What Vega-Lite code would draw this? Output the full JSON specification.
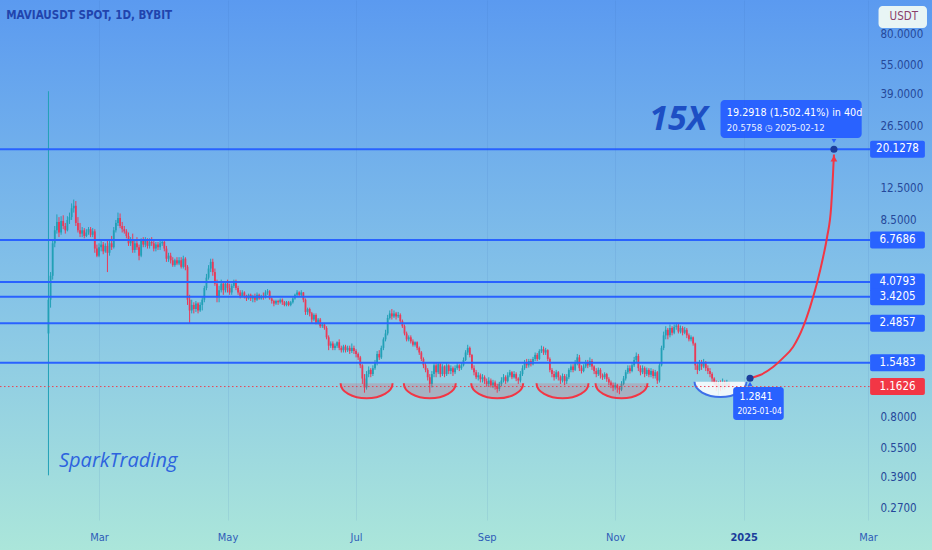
{
"$schema": "https://vega.github.io/schema/vega-lite/v6.json",
"width": 868, "height": 520, "padding": {"left": 0, "top": 0, "right": 64, "bottom": 30}, "autosize": {"type": "none"},
"background": "#9fdbe0",
"view": {"stroke": null},
"config": {"font": "'Liberation Sans Narrow', 'DejaVu Sans Condensed', sans-serif"},
"datasets": {
"candles": [
{"d":"2024-02-06","o":2.2,"h":40.4,"l":0.4,"c":3.3},
{"d":"2024-02-07","o":3.3,"h":4.6,"l":3.0,"c":4.4},
{"d":"2024-02-08","o":4.4,"h":6.8,"l":4.2,"c":6.5},
{"d":"2024-02-09","o":6.5,"h":8.0,"l":6.2,"c":7.6},
{"d":"2024-02-10","o":7.6,"h":9.2,"l":7.3,"c":8.4},
{"d":"2024-02-11","o":8.4,"h":8.9,"l":7.0,"c":7.4},
{"d":"2024-02-12","o":7.4,"h":9.0,"l":7.2,"c":8.5},
{"d":"2024-02-13","o":8.5,"h":9.1,"l":7.7,"c":8.0},
{"d":"2024-02-14","o":8.0,"h":8.3,"l":7.3,"c":7.6},
{"d":"2024-02-15","o":7.6,"h":9.0,"l":7.5,"c":8.6},
{"d":"2024-02-16","o":8.6,"h":9.4,"l":8.2,"c":8.9},
{"d":"2024-02-17","o":8.9,"h":10.5,"l":8.6,"c":9.9},
{"d":"2024-02-18","o":9.9,"h":11.0,"l":9.4,"c":10.2},
{"d":"2024-02-19","o":10.2,"h":10.8,"l":8.0,"c":8.3},
{"d":"2024-02-20","o":8.3,"h":8.9,"l":7.4,"c":7.6},
{"d":"2024-02-21","o":7.6,"h":8.3,"l":7.0,"c":7.3},
{"d":"2024-02-22","o":7.3,"h":7.9,"l":7.0,"c":7.6},
{"d":"2024-02-23","o":7.6,"h":7.8,"l":6.9,"c":7.1},
{"d":"2024-02-24","o":7.1,"h":7.7,"l":7.0,"c":7.4},
{"d":"2024-02-25","o":7.4,"h":7.9,"l":7.2,"c":7.7},
{"d":"2024-02-26","o":7.7,"h":7.9,"l":7.0,"c":7.2},
{"d":"2024-02-27","o":7.2,"h":7.8,"l":7.0,"c":7.5},
{"d":"2024-02-28","o":7.5,"h":7.7,"l":5.8,"c":6.1},
{"d":"2024-02-29","o":6.1,"h":6.4,"l":5.5,"c":5.6},
{"d":"2024-03-01","o":5.6,"h":6.5,"l":5.5,"c":6.2},
{"d":"2024-03-02","o":6.2,"h":6.7,"l":5.9,"c":6.4},
{"d":"2024-03-03","o":6.4,"h":6.6,"l":5.7,"c":5.9},
{"d":"2024-03-04","o":5.9,"h":6.5,"l":5.8,"c":6.3},
{"d":"2024-03-05","o":6.3,"h":6.8,"l":4.6,"c":5.8},
{"d":"2024-03-06","o":5.8,"h":6.8,"l":5.6,"c":6.5},
{"d":"2024-03-07","o":6.5,"h":7.1,"l":6.0,"c":6.2},
{"d":"2024-03-08","o":6.2,"h":7.9,"l":6.1,"c":7.6},
{"d":"2024-03-09","o":7.6,"h":8.6,"l":7.4,"c":8.3},
{"d":"2024-03-10","o":8.3,"h":9.4,"l":8.0,"c":8.8},
{"d":"2024-03-11","o":8.8,"h":9.3,"l":7.8,"c":8.0},
{"d":"2024-03-12","o":8.0,"h":8.4,"l":7.4,"c":7.7},
{"d":"2024-03-13","o":7.7,"h":8.0,"l":7.3,"c":7.5},
{"d":"2024-03-14","o":7.5,"h":7.7,"l":6.9,"c":7.1},
{"d":"2024-03-15","o":7.1,"h":7.4,"l":6.3,"c":6.5},
{"d":"2024-03-16","o":6.5,"h":7.0,"l":6.3,"c":6.8},
{"d":"2024-03-17","o":6.8,"h":7.3,"l":5.8,"c":6.0},
{"d":"2024-03-18","o":6.0,"h":6.8,"l":5.8,"c":6.5},
{"d":"2024-03-19","o":6.5,"h":7.0,"l":6.0,"c":6.2},
{"d":"2024-03-20","o":6.2,"h":6.4,"l":5.3,"c":5.6},
{"d":"2024-03-21","o":5.6,"h":6.9,"l":5.5,"c":6.7},
{"d":"2024-03-22","o":6.7,"h":7.0,"l":6.2,"c":6.4},
{"d":"2024-03-23","o":6.4,"h":7.0,"l":6.2,"c":6.8},
{"d":"2024-03-24","o":6.8,"h":6.9,"l":6.1,"c":6.3},
{"d":"2024-03-25","o":6.3,"h":6.9,"l":6.1,"c":6.6},
{"d":"2024-03-26","o":6.6,"h":7.0,"l":6.3,"c":6.5},
{"d":"2024-03-27","o":6.5,"h":6.8,"l":5.9,"c":6.1},
{"d":"2024-03-28","o":6.1,"h":6.6,"l":5.9,"c":6.4},
{"d":"2024-03-29","o":6.4,"h":6.6,"l":6.0,"c":6.2},
{"d":"2024-03-30","o":6.2,"h":6.7,"l":6.0,"c":6.5},
{"d":"2024-03-31","o":6.5,"h":6.8,"l":6.3,"c":6.6},
{"d":"2024-04-01","o":6.6,"h":6.8,"l":5.9,"c":6.1},
{"d":"2024-04-02","o":6.1,"h":6.3,"l":5.2,"c":5.4},
{"d":"2024-04-03","o":5.4,"h":5.8,"l":5.2,"c":5.6},
{"d":"2024-04-04","o":5.6,"h":5.8,"l":5.1,"c":5.3},
{"d":"2024-04-05","o":5.3,"h":5.5,"l":4.9,"c":5.0},
{"d":"2024-04-06","o":5.0,"h":5.4,"l":4.9,"c":5.3},
{"d":"2024-04-07","o":5.3,"h":5.5,"l":5.0,"c":5.1},
{"d":"2024-04-08","o":5.1,"h":5.5,"l":5.0,"c":5.3},
{"d":"2024-04-09","o":5.3,"h":5.5,"l":4.8,"c":4.9},
{"d":"2024-04-10","o":4.9,"h":5.6,"l":4.8,"c":5.4},
{"d":"2024-04-11","o":5.4,"h":5.5,"l":4.7,"c":4.9},
{"d":"2024-04-12","o":4.9,"h":5.0,"l":3.1,"c":3.3},
{"d":"2024-04-13","o":3.3,"h":3.5,"l":2.48,"c":2.9},
{"d":"2024-04-14","o":2.9,"h":3.3,"l":2.8,"c":3.1},
{"d":"2024-04-15","o":3.1,"h":3.2,"l":2.8,"c":2.95},
{"d":"2024-04-16","o":2.95,"h":3.25,"l":2.85,"c":3.15},
{"d":"2024-04-17","o":3.15,"h":3.2,"l":2.8,"c":2.9},
{"d":"2024-04-18","o":2.9,"h":3.2,"l":2.85,"c":3.1},
{"d":"2024-04-19","o":3.1,"h":3.4,"l":2.9,"c":3.3},
{"d":"2024-04-20","o":3.3,"h":3.9,"l":3.2,"c":3.8},
{"d":"2024-04-21","o":3.8,"h":4.5,"l":3.7,"c":4.3},
{"d":"2024-04-22","o":4.3,"h":5.0,"l":4.2,"c":4.8},
{"d":"2024-04-23","o":4.8,"h":5.4,"l":4.6,"c":5.2},
{"d":"2024-04-24","o":5.2,"h":5.4,"l":4.4,"c":4.6},
{"d":"2024-04-25","o":4.6,"h":4.8,"l":3.9,"c":4.0},
{"d":"2024-04-26","o":4.0,"h":4.2,"l":3.2,"c":3.4},
{"d":"2024-04-27","o":3.4,"h":3.9,"l":3.2,"c":3.7},
{"d":"2024-04-28","o":3.7,"h":4.2,"l":3.6,"c":4.0},
{"d":"2024-04-29","o":4.0,"h":4.1,"l":3.5,"c":3.7},
{"d":"2024-04-30","o":3.7,"h":4.1,"l":3.6,"c":4.0},
{"d":"2024-05-01","o":4.0,"h":4.2,"l":3.6,"c":3.8},
{"d":"2024-05-02","o":3.8,"h":4.0,"l":3.5,"c":3.6},
{"d":"2024-05-03","o":3.6,"h":4.0,"l":3.5,"c":3.9},
{"d":"2024-05-04","o":3.9,"h":4.2,"l":3.8,"c":4.1},
{"d":"2024-05-05","o":4.1,"h":4.2,"l":3.7,"c":3.8},
{"d":"2024-05-06","o":3.8,"h":3.9,"l":3.5,"c":3.6},
{"d":"2024-05-07","o":3.6,"h":3.7,"l":3.35,"c":3.45},
{"d":"2024-05-08","o":3.45,"h":3.7,"l":3.4,"c":3.6},
{"d":"2024-05-09","o":3.6,"h":3.65,"l":3.35,"c":3.45},
{"d":"2024-05-10","o":3.45,"h":3.5,"l":3.25,"c":3.35},
{"d":"2024-05-11","o":3.35,"h":3.55,"l":3.3,"c":3.5},
{"d":"2024-05-12","o":3.5,"h":3.55,"l":3.25,"c":3.35},
{"d":"2024-05-13","o":3.35,"h":3.5,"l":3.2,"c":3.45},
{"d":"2024-05-14","o":3.45,"h":3.55,"l":3.2,"c":3.3},
{"d":"2024-05-15","o":3.3,"h":3.6,"l":3.25,"c":3.5},
{"d":"2024-05-16","o":3.5,"h":3.55,"l":3.3,"c":3.35},
{"d":"2024-05-17","o":3.35,"h":3.5,"l":3.3,"c":3.45},
{"d":"2024-05-18","o":3.45,"h":3.6,"l":3.3,"c":3.4},
{"d":"2024-05-19","o":3.4,"h":3.7,"l":3.35,"c":3.6},
{"d":"2024-05-20","o":3.6,"h":3.75,"l":3.5,"c":3.65},
{"d":"2024-05-21","o":3.65,"h":3.7,"l":3.3,"c":3.35},
{"d":"2024-05-22","o":3.35,"h":3.4,"l":3.15,"c":3.25},
{"d":"2024-05-23","o":3.25,"h":3.3,"l":3.05,"c":3.15},
{"d":"2024-05-24","o":3.15,"h":3.3,"l":3.1,"c":3.25},
{"d":"2024-05-25","o":3.25,"h":3.3,"l":3.1,"c":3.2},
{"d":"2024-05-26","o":3.2,"h":3.35,"l":3.15,"c":3.3},
{"d":"2024-05-27","o":3.3,"h":3.35,"l":3.1,"c":3.2},
{"d":"2024-05-28","o":3.2,"h":3.25,"l":3.05,"c":3.1},
{"d":"2024-05-29","o":3.1,"h":3.25,"l":3.05,"c":3.2},
{"d":"2024-05-30","o":3.2,"h":3.25,"l":3.05,"c":3.1},
{"d":"2024-05-31","o":3.1,"h":3.25,"l":3.05,"c":3.2},
{"d":"2024-06-01","o":3.2,"h":3.4,"l":3.15,"c":3.35},
{"d":"2024-06-02","o":3.35,"h":3.55,"l":3.3,"c":3.5},
{"d":"2024-06-03","o":3.5,"h":3.7,"l":3.45,"c":3.6},
{"d":"2024-06-04","o":3.6,"h":3.65,"l":3.45,"c":3.5},
{"d":"2024-06-05","o":3.5,"h":3.7,"l":3.45,"c":3.6},
{"d":"2024-06-06","o":3.6,"h":3.62,"l":3.2,"c":3.3},
{"d":"2024-06-07","o":3.3,"h":3.35,"l":2.75,"c":2.85},
{"d":"2024-06-08","o":2.85,"h":3.0,"l":2.75,"c":2.95},
{"d":"2024-06-09","o":2.95,"h":3.0,"l":2.7,"c":2.8},
{"d":"2024-06-10","o":2.8,"h":2.85,"l":2.5,"c":2.6},
{"d":"2024-06-11","o":2.6,"h":2.8,"l":2.55,"c":2.75},
{"d":"2024-06-12","o":2.75,"h":2.8,"l":2.45,"c":2.5},
{"d":"2024-06-13","o":2.5,"h":2.65,"l":2.45,"c":2.6},
{"d":"2024-06-14","o":2.6,"h":2.65,"l":2.35,"c":2.4},
{"d":"2024-06-15","o":2.4,"h":2.5,"l":2.35,"c":2.45},
{"d":"2024-06-16","o":2.45,"h":2.5,"l":2.3,"c":2.35},
{"d":"2024-06-17","o":2.35,"h":2.4,"l":2.05,"c":2.1},
{"d":"2024-06-18","o":2.1,"h":2.15,"l":1.8,"c":1.9},
{"d":"2024-06-19","o":1.9,"h":2.0,"l":1.85,"c":1.95},
{"d":"2024-06-20","o":1.95,"h":2.0,"l":1.8,"c":1.85},
{"d":"2024-06-21","o":1.85,"h":1.95,"l":1.8,"c":1.9},
{"d":"2024-06-22","o":1.9,"h":2.0,"l":1.85,"c":1.98},
{"d":"2024-06-23","o":1.98,"h":2.05,"l":1.8,"c":1.85},
{"d":"2024-06-24","o":1.85,"h":1.9,"l":1.75,"c":1.8},
{"d":"2024-06-25","o":1.8,"h":1.92,"l":1.75,"c":1.88},
{"d":"2024-06-26","o":1.88,"h":1.92,"l":1.75,"c":1.8},
{"d":"2024-06-27","o":1.8,"h":1.9,"l":1.76,"c":1.85},
{"d":"2024-06-28","o":1.85,"h":1.9,"l":1.72,"c":1.78},
{"d":"2024-06-29","o":1.78,"h":1.95,"l":1.74,"c":1.85},
{"d":"2024-06-30","o":1.85,"h":1.9,"l":1.72,"c":1.78},
{"d":"2024-07-01","o":1.78,"h":1.82,"l":1.65,"c":1.72},
{"d":"2024-07-02","o":1.72,"h":1.75,"l":1.6,"c":1.65},
{"d":"2024-07-03","o":1.65,"h":1.68,"l":1.45,"c":1.5},
{"d":"2024-07-04","o":1.5,"h":1.52,"l":1.2,"c":1.28},
{"d":"2024-07-05","o":1.28,"h":1.35,"l":1.08,"c":1.15},
{"d":"2024-07-06","o":1.15,"h":1.4,"l":1.12,"c":1.35},
{"d":"2024-07-07","o":1.35,"h":1.48,"l":1.3,"c":1.42},
{"d":"2024-07-08","o":1.42,"h":1.45,"l":1.3,"c":1.35},
{"d":"2024-07-09","o":1.35,"h":1.5,"l":1.32,"c":1.45},
{"d":"2024-07-10","o":1.45,"h":1.6,"l":1.42,"c":1.55},
{"d":"2024-07-11","o":1.55,"h":1.78,"l":1.5,"c":1.72},
{"d":"2024-07-12","o":1.72,"h":1.8,"l":1.6,"c":1.65},
{"d":"2024-07-13","o":1.65,"h":1.9,"l":1.62,"c":1.85},
{"d":"2024-07-14","o":1.85,"h":2.1,"l":1.8,"c":2.05},
{"d":"2024-07-15","o":2.05,"h":2.3,"l":2.0,"c":2.2},
{"d":"2024-07-16","o":2.2,"h":2.75,"l":2.15,"c":2.65},
{"d":"2024-07-17","o":2.65,"h":2.9,"l":2.6,"c":2.8},
{"d":"2024-07-18","o":2.8,"h":2.95,"l":2.6,"c":2.7},
{"d":"2024-07-19","o":2.7,"h":2.9,"l":2.65,"c":2.8},
{"d":"2024-07-20","o":2.8,"h":2.85,"l":2.6,"c":2.7},
{"d":"2024-07-21","o":2.7,"h":2.85,"l":2.65,"c":2.75},
{"d":"2024-07-22","o":2.75,"h":2.8,"l":2.5,"c":2.55},
{"d":"2024-07-23","o":2.55,"h":2.6,"l":2.35,"c":2.4},
{"d":"2024-07-24","o":2.4,"h":2.45,"l":2.15,"c":2.2},
{"d":"2024-07-25","o":2.2,"h":2.25,"l":2.0,"c":2.05},
{"d":"2024-07-26","o":2.05,"h":2.15,"l":2.0,"c":2.1},
{"d":"2024-07-27","o":2.1,"h":2.15,"l":1.95,"c":2.0},
{"d":"2024-07-28","o":2.0,"h":2.05,"l":1.88,"c":1.92},
{"d":"2024-07-29","o":1.92,"h":2.0,"l":1.88,"c":1.98},
{"d":"2024-07-30","o":1.98,"h":2.0,"l":1.8,"c":1.85},
{"d":"2024-07-31","o":1.85,"h":1.88,"l":1.7,"c":1.75},
{"d":"2024-08-01","o":1.75,"h":1.78,"l":1.58,"c":1.62},
{"d":"2024-08-02","o":1.62,"h":1.65,"l":1.45,"c":1.5},
{"d":"2024-08-03","o":1.5,"h":1.55,"l":1.38,"c":1.42},
{"d":"2024-08-04","o":1.42,"h":1.45,"l":1.25,"c":1.3},
{"d":"2024-08-05","o":1.3,"h":1.35,"l":1.08,"c":1.2},
{"d":"2024-08-06","o":1.2,"h":1.4,"l":1.15,"c":1.35},
{"d":"2024-08-07","o":1.35,"h":1.55,"l":1.3,"c":1.5},
{"d":"2024-08-08","o":1.5,"h":1.55,"l":1.3,"c":1.38},
{"d":"2024-08-09","o":1.38,"h":1.55,"l":1.35,"c":1.52},
{"d":"2024-08-10","o":1.52,"h":1.55,"l":1.3,"c":1.35},
{"d":"2024-08-11","o":1.35,"h":1.52,"l":1.32,"c":1.48},
{"d":"2024-08-12","o":1.48,"h":1.5,"l":1.3,"c":1.35},
{"d":"2024-08-13","o":1.35,"h":1.55,"l":1.32,"c":1.5},
{"d":"2024-08-14","o":1.5,"h":1.52,"l":1.35,"c":1.4},
{"d":"2024-08-15","o":1.4,"h":1.5,"l":1.35,"c":1.45},
{"d":"2024-08-16","o":1.45,"h":1.48,"l":1.32,"c":1.38},
{"d":"2024-08-17","o":1.38,"h":1.5,"l":1.35,"c":1.45},
{"d":"2024-08-18","o":1.45,"h":1.55,"l":1.42,"c":1.5},
{"d":"2024-08-19","o":1.5,"h":1.52,"l":1.4,"c":1.45},
{"d":"2024-08-20","o":1.45,"h":1.55,"l":1.42,"c":1.5},
{"d":"2024-08-21","o":1.5,"h":1.65,"l":1.48,"c":1.6},
{"d":"2024-08-22","o":1.6,"h":1.8,"l":1.58,"c":1.75},
{"d":"2024-08-23","o":1.75,"h":1.92,"l":1.7,"c":1.85},
{"d":"2024-08-24","o":1.85,"h":1.88,"l":1.65,"c":1.7},
{"d":"2024-08-25","o":1.7,"h":1.72,"l":1.42,"c":1.45},
{"d":"2024-08-26","o":1.45,"h":1.5,"l":1.33,"c":1.38},
{"d":"2024-08-27","o":1.38,"h":1.42,"l":1.27,"c":1.3},
{"d":"2024-08-28","o":1.3,"h":1.38,"l":1.25,"c":1.33},
{"d":"2024-08-29","o":1.33,"h":1.36,"l":1.22,"c":1.27},
{"d":"2024-08-30","o":1.27,"h":1.35,"l":1.22,"c":1.3},
{"d":"2024-08-31","o":1.3,"h":1.33,"l":1.2,"c":1.24},
{"d":"2024-09-01","o":1.24,"h":1.28,"l":1.16,"c":1.2},
{"d":"2024-09-02","o":1.2,"h":1.3,"l":1.17,"c":1.25},
{"d":"2024-09-03","o":1.25,"h":1.28,"l":1.15,"c":1.18},
{"d":"2024-09-04","o":1.18,"h":1.26,"l":1.14,"c":1.22},
{"d":"2024-09-05","o":1.22,"h":1.25,"l":1.12,"c":1.16},
{"d":"2024-09-06","o":1.16,"h":1.2,"l":1.08,"c":1.13},
{"d":"2024-09-07","o":1.13,"h":1.23,"l":1.1,"c":1.2},
{"d":"2024-09-08","o":1.2,"h":1.3,"l":1.17,"c":1.25},
{"d":"2024-09-09","o":1.25,"h":1.35,"l":1.22,"c":1.3},
{"d":"2024-09-10","o":1.3,"h":1.33,"l":1.2,"c":1.24},
{"d":"2024-09-11","o":1.24,"h":1.38,"l":1.22,"c":1.33},
{"d":"2024-09-12","o":1.33,"h":1.42,"l":1.3,"c":1.38},
{"d":"2024-09-13","o":1.38,"h":1.4,"l":1.27,"c":1.3},
{"d":"2024-09-14","o":1.3,"h":1.4,"l":1.28,"c":1.35},
{"d":"2024-09-15","o":1.35,"h":1.38,"l":1.24,"c":1.28},
{"d":"2024-09-16","o":1.28,"h":1.3,"l":1.2,"c":1.25},
{"d":"2024-09-17","o":1.25,"h":1.4,"l":1.22,"c":1.35},
{"d":"2024-09-18","o":1.35,"h":1.5,"l":1.32,"c":1.45},
{"d":"2024-09-19","o":1.45,"h":1.6,"l":1.42,"c":1.55},
{"d":"2024-09-20","o":1.55,"h":1.62,"l":1.45,"c":1.5},
{"d":"2024-09-21","o":1.5,"h":1.62,"l":1.46,"c":1.58},
{"d":"2024-09-22","o":1.58,"h":1.62,"l":1.48,"c":1.52},
{"d":"2024-09-23","o":1.52,"h":1.66,"l":1.5,"c":1.62},
{"d":"2024-09-24","o":1.62,"h":1.75,"l":1.58,"c":1.7},
{"d":"2024-09-25","o":1.7,"h":1.74,"l":1.58,"c":1.62},
{"d":"2024-09-26","o":1.62,"h":1.82,"l":1.6,"c":1.78},
{"d":"2024-09-27","o":1.78,"h":1.9,"l":1.74,"c":1.82},
{"d":"2024-09-28","o":1.82,"h":1.88,"l":1.7,"c":1.75},
{"d":"2024-09-29","o":1.75,"h":1.85,"l":1.7,"c":1.8},
{"d":"2024-09-30","o":1.8,"h":1.82,"l":1.58,"c":1.62},
{"d":"2024-10-01","o":1.62,"h":1.65,"l":1.38,"c":1.42},
{"d":"2024-10-02","o":1.42,"h":1.45,"l":1.3,"c":1.35},
{"d":"2024-10-03","o":1.35,"h":1.4,"l":1.25,"c":1.3},
{"d":"2024-10-04","o":1.3,"h":1.42,"l":1.27,"c":1.38},
{"d":"2024-10-05","o":1.38,"h":1.4,"l":1.25,"c":1.3},
{"d":"2024-10-06","o":1.3,"h":1.33,"l":1.2,"c":1.25},
{"d":"2024-10-07","o":1.25,"h":1.36,"l":1.22,"c":1.32},
{"d":"2024-10-08","o":1.32,"h":1.35,"l":1.18,"c":1.24},
{"d":"2024-10-09","o":1.24,"h":1.35,"l":1.2,"c":1.3},
{"d":"2024-10-10","o":1.3,"h":1.45,"l":1.27,"c":1.42},
{"d":"2024-10-11","o":1.42,"h":1.52,"l":1.38,"c":1.48},
{"d":"2024-10-12","o":1.48,"h":1.52,"l":1.38,"c":1.42},
{"d":"2024-10-13","o":1.42,"h":1.6,"l":1.4,"c":1.55},
{"d":"2024-10-14","o":1.55,"h":1.72,"l":1.5,"c":1.65},
{"d":"2024-10-15","o":1.65,"h":1.7,"l":1.4,"c":1.45},
{"d":"2024-10-16","o":1.45,"h":1.5,"l":1.36,"c":1.4},
{"d":"2024-10-17","o":1.4,"h":1.52,"l":1.38,"c":1.48},
{"d":"2024-10-18","o":1.48,"h":1.6,"l":1.45,"c":1.55},
{"d":"2024-10-19","o":1.55,"h":1.6,"l":1.45,"c":1.5},
{"d":"2024-10-20","o":1.5,"h":1.65,"l":1.47,"c":1.58},
{"d":"2024-10-21","o":1.58,"h":1.62,"l":1.42,"c":1.48},
{"d":"2024-10-22","o":1.48,"h":1.5,"l":1.35,"c":1.4},
{"d":"2024-10-23","o":1.4,"h":1.45,"l":1.3,"c":1.35},
{"d":"2024-10-24","o":1.35,"h":1.46,"l":1.32,"c":1.42},
{"d":"2024-10-25","o":1.42,"h":1.45,"l":1.28,"c":1.33},
{"d":"2024-10-26","o":1.33,"h":1.36,"l":1.26,"c":1.3},
{"d":"2024-10-27","o":1.3,"h":1.38,"l":1.27,"c":1.35},
{"d":"2024-10-28","o":1.35,"h":1.37,"l":1.23,"c":1.27},
{"d":"2024-10-29","o":1.27,"h":1.3,"l":1.18,"c":1.22},
{"d":"2024-10-30","o":1.22,"h":1.25,"l":1.14,"c":1.18},
{"d":"2024-10-31","o":1.18,"h":1.22,"l":1.1,"c":1.15},
{"d":"2024-11-01","o":1.15,"h":1.22,"l":1.12,"c":1.18},
{"d":"2024-11-02","o":1.18,"h":1.2,"l":1.08,"c":1.14},
{"d":"2024-11-03","o":1.14,"h":1.17,"l":1.06,"c":1.12},
{"d":"2024-11-04","o":1.12,"h":1.24,"l":1.1,"c":1.2},
{"d":"2024-11-05","o":1.2,"h":1.32,"l":1.18,"c":1.28},
{"d":"2024-11-06","o":1.28,"h":1.42,"l":1.25,"c":1.38},
{"d":"2024-11-07","o":1.38,"h":1.5,"l":1.35,"c":1.45},
{"d":"2024-11-08","o":1.45,"h":1.5,"l":1.36,"c":1.4},
{"d":"2024-11-09","o":1.4,"h":1.55,"l":1.38,"c":1.5},
{"d":"2024-11-10","o":1.5,"h":1.66,"l":1.47,"c":1.6},
{"d":"2024-11-11","o":1.6,"h":1.75,"l":1.56,"c":1.68},
{"d":"2024-11-12","o":1.68,"h":1.72,"l":1.4,"c":1.45},
{"d":"2024-11-13","o":1.45,"h":1.5,"l":1.33,"c":1.38},
{"d":"2024-11-14","o":1.38,"h":1.5,"l":1.35,"c":1.45},
{"d":"2024-11-15","o":1.45,"h":1.48,"l":1.3,"c":1.35},
{"d":"2024-11-16","o":1.35,"h":1.46,"l":1.32,"c":1.42},
{"d":"2024-11-17","o":1.42,"h":1.45,"l":1.3,"c":1.34},
{"d":"2024-11-18","o":1.34,"h":1.45,"l":1.3,"c":1.4},
{"d":"2024-11-19","o":1.4,"h":1.43,"l":1.28,"c":1.32},
{"d":"2024-11-20","o":1.32,"h":1.42,"l":1.28,"c":1.38},
{"d":"2024-11-21","o":1.38,"h":1.4,"l":1.2,"c":1.25},
{"d":"2024-11-22","o":1.25,"h":1.55,"l":1.22,"c":1.5},
{"d":"2024-11-23","o":1.5,"h":1.9,"l":1.48,"c":1.85},
{"d":"2024-11-24","o":1.85,"h":2.25,"l":1.8,"c":2.15},
{"d":"2024-11-25","o":2.15,"h":2.4,"l":2.05,"c":2.3},
{"d":"2024-11-26","o":2.3,"h":2.35,"l":2.05,"c":2.15},
{"d":"2024-11-27","o":2.15,"h":2.45,"l":2.1,"c":2.35},
{"d":"2024-11-28","o":2.35,"h":2.4,"l":2.15,"c":2.22},
{"d":"2024-11-29","o":2.22,"h":2.45,"l":2.18,"c":2.38},
{"d":"2024-11-30","o":2.38,"h":2.5,"l":2.3,"c":2.42},
{"d":"2024-12-01","o":2.42,"h":2.48,"l":2.2,"c":2.25},
{"d":"2024-12-02","o":2.25,"h":2.42,"l":2.2,"c":2.35},
{"d":"2024-12-03","o":2.35,"h":2.4,"l":2.15,"c":2.22},
{"d":"2024-12-04","o":2.22,"h":2.38,"l":2.18,"c":2.3},
{"d":"2024-12-05","o":2.3,"h":2.35,"l":2.08,"c":2.15},
{"d":"2024-12-06","o":2.15,"h":2.2,"l":2.0,"c":2.05},
{"d":"2024-12-07","o":2.05,"h":2.15,"l":2.0,"c":2.1},
{"d":"2024-12-08","o":2.1,"h":2.12,"l":1.9,"c":1.95},
{"d":"2024-12-09","o":1.95,"h":1.97,"l":1.42,"c":1.5},
{"d":"2024-12-10","o":1.5,"h":1.55,"l":1.35,"c":1.42},
{"d":"2024-12-11","o":1.42,"h":1.6,"l":1.4,"c":1.55},
{"d":"2024-12-12","o":1.55,"h":1.6,"l":1.42,"c":1.48},
{"d":"2024-12-13","o":1.48,"h":1.62,"l":1.45,"c":1.55},
{"d":"2024-12-14","o":1.55,"h":1.58,"l":1.4,"c":1.45},
{"d":"2024-12-15","o":1.45,"h":1.5,"l":1.35,"c":1.4},
{"d":"2024-12-16","o":1.4,"h":1.45,"l":1.3,"c":1.35},
{"d":"2024-12-17","o":1.35,"h":1.38,"l":1.22,"c":1.28},
{"d":"2024-12-18","o":1.28,"h":1.3,"l":1.18,"c":1.22},
{"d":"2024-12-19","o":1.22,"h":1.25,"l":1.1,"c":1.15},
{"d":"2024-12-20","o":1.15,"h":1.24,"l":1.05,"c":1.2},
{"d":"2024-12-21","o":1.2,"h":1.25,"l":1.1,"c":1.14},
{"d":"2024-12-22","o":1.14,"h":1.28,"l":1.12,"c":1.22},
{"d":"2024-12-23","o":1.22,"h":1.25,"l":1.12,"c":1.16},
{"d":"2024-12-24","o":1.16,"h":1.26,"l":1.14,"c":1.21},
{"d":"2024-12-25","o":1.21,"h":1.23,"l":1.15,"c":1.1626}
],
"levels": [
{"p":20.1278,"k":"lvl"},{"p":6.7686,"k":"lvl"},{"p":4.0793,"k":"lvl"},{"p":3.4205,"k":"lvl"},{"p":2.4857,"k":"lvl"},{"p":1.5483,"k":"lvl"},{"p":1.1626,"k":"cur"}
],
"bowls": [
{"d":"2024-07-06","p":1.21,"k":"r"},{"d":"2024-08-05","p":1.21,"k":"r"},{"d":"2024-09-06","p":1.21,"k":"r"},{"d":"2024-10-07","p":1.21,"k":"r"},{"d":"2024-11-04","p":1.21,"k":"r"},{"d":"2024-12-21","p":1.23,"k":"b"}
],
"curve": [
{"d":"2025-01-04T00:00:00Z","p":1.2841},{"d":"2025-01-08T19:00:00Z","p":1.335},{"d":"2025-01-14T22:00:00Z","p":1.47},{"d":"2025-01-19T17:00:00Z","p":1.64},{"d":"2025-01-24T10:00:00Z","p":1.87},{"d":"2025-01-29T05:00:00Z","p":2.38},{"d":"2025-02-01T12:00:00Z","p":3.02},{"d":"2025-02-04T19:00:00Z","p":4.03},{"d":"2025-02-07T17:00:00Z","p":5.51},{"d":"2025-02-09T14:00:00Z","p":7.01},{"d":"2025-02-11T12:00:00Z","p":10.04},{"d":"2025-02-12T10:00:00Z","p":15.1},{"d":"2025-02-12T20:00:00Z","p":18.9}
],
"dots": [
{"d":"2025-01-04T00:00:00Z","p":1.2841},{"d":"2025-02-12T20:00:00Z","p":20.1278}
]
},
"layer": [
{
"data": {"values": [{}]},
"mark": {"type": "rect", "color": {"gradient": "linear", "x1": 0, "y1": 0, "x2": 0, "y2": 1, "stops": [{"offset": 0, "color": "#5b9af0"}, {"offset": 0.5, "color": "#83c1e8"}, {"offset": 1, "color": "#abe6da"}]}},
"encoding": {
"x": {"datum": {"year": 2024, "month": 1, "date": 14, "utc": true}, "type": "temporal", "title": null,
 "scale": {"type": "utc", "padding": 0, "domain": [{"year": 2024, "month": 1, "date": 14, "utc": true}, {"year": 2025, "month": 3, "date": 1, "utc": true}]},
 "axis": {"orient": "bottom", "title": null, "zindex": 1,
  "values": [{"year": 2024, "month": 3, "date": 1, "utc": true}, {"year": 2024, "month": 5, "date": 1, "utc": true}, {"year": 2024, "month": 7, "date": 1, "utc": true}, {"year": 2024, "month": 9, "date": 1, "utc": true}, {"year": 2024, "month": 11, "date": 1, "utc": true}, {"year": 2025, "month": 1, "date": 1, "utc": true}, {"year": 2025, "month": 3, "date": 1, "utc": true}],
  "labelExpr": "utcmonth(datum.value) == 0 ? utcFormat(datum.value, '%Y') : utcFormat(datum.value, '%b')",
  "labelFontWeight": {"condition": {"test": "utcmonth(datum.value) == 0", "value": "bold"}, "value": "normal"},
  "labelColor": {"condition": {"test": "utcmonth(datum.value) == 0", "value": "#1a3c9a"}, "value": "#2f5cb8"},
  "labelFontSize": 11, "labelPadding": 11, "domain": false, "ticks": false, "labelFlush": false,
  "grid": true, "gridColor": "#2f5fb0", "gridOpacity": 0.1}},
"x2": {"datum": {"year": 2025, "month": 4, "date": 2, "utc": true}},
"y": {"datum": 120.9, "type": "quantitative", "title": null,
 "scale": {"type": "log", "padding": 0, "domain": [0.2339, 120.9], "nice": false, "zero": false},
 "axis": {"orient": "right", "title": null, "zindex": 1,
  "values": [0.27, 0.39, 0.55, 0.8, 8.5, 12.5, 26.5, 39, 55, 80],
  "format": ".4f", "labelFontSize": 11.5, "labelColor": "#25489a", "labelAlign": "left", "labelBaseline": "middle",
  "labelPadding": 12, "domain": false, "ticks": false, "grid": false, "labelOverlap": false, "labelFlush": false}},
"y2": {"datum": 0.163}
}
},
{
"data": {"name": "candles"},
"mark": {"type": "rule", "strokeWidth": 1},
"encoding": {
"x": {"field": "d", "type": "temporal", "title": null},
"y": {"field": "l", "type": "quantitative", "title": null},
"y2": {"field": "h"},
"color": {"condition": {"test": "datum.c >= datum.o", "value": "#22a0b6"}, "value": "#ea3a58"}
}
},
{
"data": {"name": "candles"},
"mark": {"type": "bar", "width": 1.8},
"encoding": {
"x": {"field": "d", "type": "temporal", "title": null},
"y": {"field": "o", "type": "quantitative", "title": null},
"y2": {"field": "c"},
"color": {"condition": {"test": "datum.c >= datum.o", "value": "#22a0b6"}, "value": "#ea3a58"}
}
},
{
"data": {"name": "bowls"},
"mark": {"type": "point", "shape": "M -1 0 A 1 0.58 0 0 0 1 0", "size": 2704, "strokeWidth": 2, "opacity": 1},
"encoding": {
"x": {"field": "d", "type": "temporal", "title": null},
"y": {"field": "p", "type": "quantitative", "title": null},
"fill": {"condition": {"test": "datum.k == 'b'", "value": "rgba(255,255,255,0.85)"}, "value": "rgba(242,54,69,0.2)"},
"stroke": {"condition": {"test": "datum.k == 'b'", "value": "#3d6fe8"}, "value": "#f23645"}
}
},
{
"data": {"name": "levels"},
"transform": [{"filter": "datum.k == 'lvl'"}],
"mark": {"type": "rule", "color": "#2962ff", "strokeWidth": 2},
"encoding": {
"x": {"datum": {"year": 2024, "month": 1, "date": 14, "utc": true}, "type": "temporal", "title": null},
"x2": {"datum": {"year": 2025, "month": 3, "date": 2, "utc": true}},
"y": {"field": "p", "type": "quantitative", "title": null}
}
},
{
"data": {"name": "levels"},
"transform": [{"filter": "datum.k == 'cur'"}],
"mark": {"type": "rule", "color": "#f23645", "strokeWidth": 1, "strokeDash": [1.5, 2.5], "opacity": 0.9},
"encoding": {
"x": {"datum": {"year": 2024, "month": 1, "date": 14, "utc": true}, "type": "temporal", "title": null},
"x2": {"datum": {"year": 2025, "month": 3, "date": 2, "utc": true}},
"y": {"field": "p", "type": "quantitative", "title": null}
}
},
{
"data": {"name": "curve"},
"mark": {"type": "line", "color": "#f23645", "strokeWidth": 2, "interpolate": "monotone"},
"encoding": {
"x": {"field": "d", "type": "temporal", "title": null},
"y": {"field": "p", "type": "quantitative", "title": null}
}
},
{
"data": {"values": [{}]},
"mark": {"type": "point", "shape": "triangle-up", "size": 45, "filled": true, "color": "#f23645", "opacity": 1},
"encoding": {
"x": {"datum": {"year": 2025, "month": 2, "date": 12, "hours": 20, "utc": true}, "type": "temporal", "title": null},
"y": {"datum": 18.0, "type": "quantitative", "title": null}
}
},
{
"data": {"name": "dots"},
"mark": {"type": "point", "shape": "circle", "size": 50, "filled": true, "color": "#1b3d9c", "opacity": 1},
"encoding": {
"x": {"field": "d", "type": "temporal", "title": null},
"y": {"field": "p", "type": "quantitative", "title": null}
}
},
{
"data": {"values": [{}]},
"mark": {"type": "point", "shape": "triangle-down", "size": 22, "filled": true, "color": "#2962ff", "opacity": 1},
"encoding": {
"x": {"datum": {"year": 2025, "month": 2, "date": 12, "hours": 20, "utc": true}, "type": "temporal", "title": null},
"y": {"datum": 22.2, "type": "quantitative", "title": null}
}
},
{
"data": {"values": [{}]},
"mark": {"type": "point", "shape": "triangle-up", "size": 28, "filled": true, "color": "#2962ff", "opacity": 1},
"encoding": {
"x": {"datum": {"year": 2025, "month": 1, "date": 4, "utc": true}, "type": "temporal", "title": null},
"y": {"datum": 1.198, "type": "quantitative", "title": null}
}
},
{
"data": {"values": [{}]},
"mark": {"type": "rect", "color": "#2962ff", "cornerRadius": 4},
"encoding": {
"x": {"datum": {"year": 2024, "month": 12, "date": 21, "utc": true}, "type": "temporal", "title": null},
"x2": {"datum": {"year": 2025, "month": 2, "date": 26, "utc": true}},
"y": {"datum": 36.4, "type": "quantitative", "title": null},
"y2": {"datum": 23.0}
}
},
{
"data": {"values": [{}]},
"mark": {"type": "rect", "color": "#2962ff", "cornerRadius": 3},
"encoding": {
"x": {"datum": {"year": 2024, "month": 12, "date": 27, "utc": true}, "type": "temporal", "title": null},
"x2": {"datum": {"year": 2025, "month": 1, "date": 20, "utc": true}},
"y": {"datum": 1.156, "type": "quantitative", "title": null},
"y2": {"datum": 0.777}
}
},
{
"data": {"values": [{}]},
"mark": {"type": "rect", "color": "#e8f5f5", "cornerRadius": 4},
"encoding": {
"x": {"datum": {"year": 2025, "month": 3, "date": 6, "utc": true}, "type": "temporal", "title": null},
"x2": {"datum": {"year": 2025, "month": 3, "date": 29, "utc": true}},
"y": {"datum": 112.5, "type": "quantitative", "title": null},
"y2": {"datum": 86.4}
}
},
{
"data": {"name": "levels"},
"mark": {"type": "rect", "cornerRadius": 2, "yOffset": -8.5, "y2Offset": 8.5},
"encoding": {
"x": {"datum": {"year": 2025, "month": 3, "date": 2, "utc": true}, "type": "temporal", "title": null},
"x2": {"datum": {"year": 2025, "month": 3, "date": 28, "utc": true}},
"y": {"field": "p", "type": "quantitative", "title": null},
"y2": {"field": "p"},
"color": {"condition": {"test": "datum.k == 'cur'", "value": "#f23645"}, "value": "#2962ff"}
}
},
{
"data": {"name": "levels"},
"mark": {"type": "text", "color": "#ffffff", "fontSize": 11.5, "align": "center", "baseline": "middle", "font": "'Liberation Sans Narrow', 'DejaVu Sans Condensed', sans-serif"},
"encoding": {
"x": {"datum": {"year": 2025, "month": 3, "date": 15, "utc": true}, "type": "temporal", "title": null},
"y": {"field": "p", "type": "quantitative", "title": null},
"text": {"field": "p", "type": "quantitative", "format": ".4f"}
}
},
{
"data": {"values": [{}]},
"mark": {"type": "text", "text": "USDT", "color": "#8a3f6a", "fontSize": 11.5, "align": "center", "baseline": "middle", "font": "'Liberation Sans Narrow', 'DejaVu Sans Condensed', sans-serif"},
"encoding": {
"x": {"datum": {"year": 2025, "month": 3, "date": 18, "utc": true}, "type": "temporal", "title": null},
"y": {"datum": 98.6, "type": "quantitative", "title": null}
}
},
{
"data": {"values": [{}]},
"mark": {"type": "text", "text": "MAVIAUSDT SPOT, 1D, BYBIT", "color": "#2144ad", "fontSize": 11.5, "fontWeight": "bold", "align": "left", "baseline": "middle", "font": "'Liberation Sans Narrow', 'DejaVu Sans Condensed', sans-serif"},
"encoding": {
"x": {"datum": {"year": 2024, "month": 1, "date": 17, "utc": true}, "type": "temporal", "title": null},
"y": {"datum": 99.8, "type": "quantitative", "title": null}
}
},
{
"data": {"values": [{}]},
"mark": {"type": "text", "text": "15X", "color": "#1d4fc4", "fontSize": 34, "fontWeight": "bold", "fontStyle": "italic", "align": "center", "baseline": "middle", "font": "Open Sans"},
"encoding": {
"x": {"datum": {"year": 2024, "month": 12, "date": 1, "utc": true}, "type": "temporal", "title": null},
"y": {"datum": 28.6, "type": "quantitative", "title": null}
}
},
{
"data": {"values": [{}]},
"mark": {"type": "text", "text": "19.2918 (1,502.41%) in 40d", "color": "#ffffff", "fontSize": 10.7, "align": "left", "baseline": "middle", "font": "'Liberation Sans Narrow', 'DejaVu Sans Condensed', sans-serif"},
"encoding": {
"x": {"datum": {"year": 2024, "month": 12, "date": 24, "utc": true}, "type": "temporal", "title": null},
"y": {"datum": 31.1, "type": "quantitative", "title": null}
}
},
{
"data": {"values": [{}]},
"mark": {"type": "text", "text": "20.5758 ◷ 2025-02-12", "color": "#eef3ff", "fontSize": 9.5, "align": "left", "baseline": "middle", "font": "'Liberation Sans Narrow', 'DejaVu Sans Condensed', sans-serif"},
"encoding": {
"x": {"datum": {"year": 2024, "month": 12, "date": 24, "utc": true}, "type": "temporal", "title": null},
"y": {"datum": 25.97, "type": "quantitative", "title": null}
}
},
{
"data": {"values": [{}]},
"mark": {"type": "text", "text": "1.2841", "color": "#ffffff", "fontSize": 10.5, "align": "left", "baseline": "middle", "font": "'Liberation Sans Narrow', 'DejaVu Sans Condensed', sans-serif"},
"encoding": {
"x": {"datum": {"year": 2024, "month": 12, "date": 30, "utc": true}, "type": "temporal", "title": null},
"y": {"datum": 1.021, "type": "quantitative", "title": null}
}
},
{
"data": {"values": [{}]},
"mark": {"type": "text", "text": "2025-01-04", "color": "#ffffff", "fontSize": 8.5, "align": "left", "baseline": "middle", "font": "'Liberation Sans Narrow', 'DejaVu Sans Condensed', sans-serif"},
"encoding": {
"x": {"datum": {"year": 2024, "month": 12, "date": 29, "utc": true}, "type": "temporal", "title": null},
"y": {"datum": 0.869, "type": "quantitative", "title": null}
}
},
{
"data": {"values": [{}]},
"mark": {"type": "text", "text": "SparkTrading", "color": "#2d63de", "fontSize": 20, "fontStyle": "italic", "fontWeight": 500, "align": "left", "baseline": "alphabetic", "font": "Open Sans"},
"encoding": {
"x": {"datum": {"year": 2024, "month": 2, "date": 11, "utc": true}, "type": "temporal", "title": null},
"y": {"datum": 0.442, "type": "quantitative", "title": null}
}
}
]
}
